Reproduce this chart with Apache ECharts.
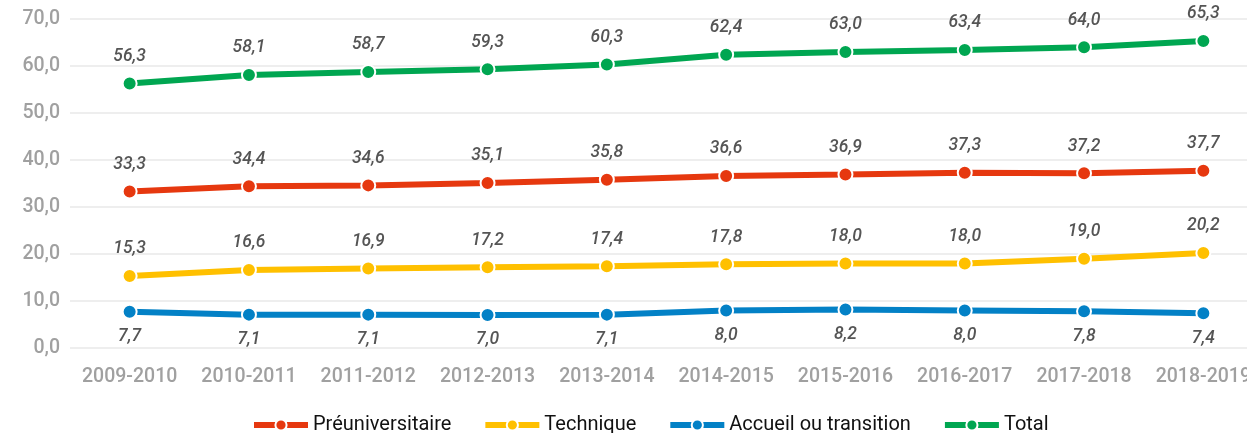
<!DOCTYPE html>
<html lang="fr">
<head>
  <meta charset="UTF-8">
  <title>Effectifs</title>
  <script src="https://cdn.jsdelivr.net/npm/echarts@6/dist/echarts.min.js"></script>
  <style>
    html, body { margin: 0; padding: 0; background: #fff; overflow: hidden; }
    /* le graphique déborde à droite, comme dans l'original */
    #chart { width: 1263px; height: 433px; }
  </style>
</head>
<body>
<div id="chart"></div>
<script>
  // années scolaires
  var annees = ['2009-2010','2010-2011','2011-2012','2012-2013','2013-2014','2014-2015','2015-2016','2016-2017','2017-2018','2018-2019'];
  var preuniversitaire = [33.3, 34.4, 34.6, 35.1, 35.8, 36.6, 36.9, 37.3, 37.2, 37.7];
  var technique = [15.3, 16.6, 16.9, 17.2, 17.4, 17.8, 18.0, 18.0, 19.0, 20.2];
  var accueil = [7.7, 7.1, 7.1, 7.0, 7.1, 8.0, 8.2, 8.0, 7.8, 7.4];
  var total = [56.3, 58.1, 58.7, 59.3, 60.3, 62.4, 63.0, 63.4, 64.0, 65.3];

  function fmt(v) {
    return v.toFixed(1).replace('.', ',');
  }

  function serie(name, data, color, pos) {
    return {
      name: name,
      type: 'line',
      data: data,
      symbol: 'circle',
      symbolSize: 14,
      lineStyle: { width: 6, color: color },
      itemStyle: { color: color, borderColor: '#fff', borderWidth: 2 },
      label: {
        show: true,
        position: pos,
        distance: pos == 'top' ? 10 : 8,
        formatter: function (p) { return fmt(p.value); },
        color: '#555555',
        fontFamily: 'Roboto',
        fontStyle: 'italic',
        fontWeight: 500,
        fontSize: 17.5
      },
      emphasis: { disabled: true },
      animation: false
    };
  }

  var chart = echarts.init(document.getElementById('chart'));
  chart.setOption({
    backgroundColor: '#fff',
    grid: { left: 70, right: 0, top: 19, bottom: 85, containLabel: false },
    legend: {
      bottom: -7,
      left: 246,
      itemWidth: 54,
      itemHeight: 14,
      itemGap: 31,
      lineStyle: { width: 6 },
      textStyle: { color: '#111', fontFamily: 'Roboto', fontSize: 20 },
      data: ['Préuniversitaire', 'Technique', 'Accueil ou transition', 'Total']
    },
    xAxis: {
      type: 'category',
      data: annees,
      boundaryGap: true,
      axisLine: { show: false },
      axisTick: { show: false },
      axisLabel: {
        color: '#a0a0a0',
        fontFamily: 'Roboto',
        fontWeight: 500,
        fontSize: 19.5,
        margin: 19,
        interval: 0
      }
    },
    yAxis: {
      type: 'value',
      min: 0,
      max: 70,
      interval: 10,
      axisLine: { show: false },
      axisTick: { show: false },
      splitLine: { lineStyle: { color: '#eeeeee', width: 2 } },
      axisLabel: {
        color: '#a0a0a0',
        fontFamily: 'Roboto',
        fontWeight: 500,
        fontSize: 19.5,
        margin: 10,
        formatter: function (v) { return fmt(v); }
      }
    },
    series: [
      serie('Préuniversitaire', preuniversitaire, '#E6380F', 'top'),
      serie('Technique', technique, '#FFC000', 'top'),
      serie('Accueil ou transition', accueil, '#0381C6', 'bottom'),
      serie('Total', total, '#00A651', 'top')
    ]
  });
</script>
</body>
</html>
